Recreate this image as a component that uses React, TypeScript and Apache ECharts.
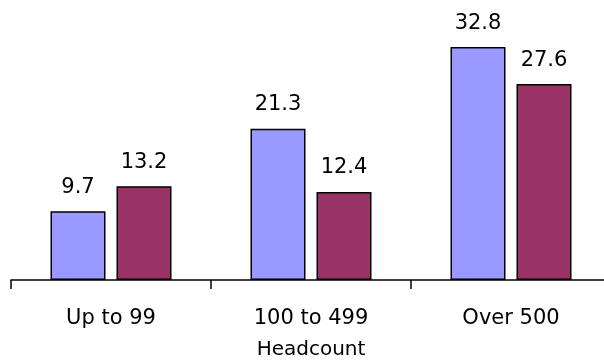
import React, { useEffect, useRef } from "react";
import * as echarts from "echarts";

const categories = ["Up to 99", "100 to 499", "Over 500"];
const seriesA = [9.7, 21.3, 32.8];
const seriesB = [13.2, 12.4, 27.6];
const axisTitle = "Headcount";

export default function App() {
  const ref = useRef<HTMLDivElement>(null);
  useEffect(() => {
    const chart = echarts.init(ref.current!, null, { renderer: "svg" });
    const font = "'DejaVu Sans', 'Liberation Sans', Arial, sans-serif";
    const label = {
      show: true,
      position: "top" as const,
      distance: 15,
      color: "#000",
      fontSize: 21,
      fontFamily: font,
      formatter: (p: any) => p.value.toFixed(1),
    };
    chart.setOption({
      animation: false,
      grid: {
        left: 11,
        right: 0,
        top: 31.5,
        bottom: 82,
        containLabel: false,
        outerBoundsMode: "none",
      },
      xAxis: {
        type: "category",
        data: categories,
        name: axisTitle,
        nameLocation: "middle",
        nameGap: 68,
        nameTextStyle: {
          color: "#000",
          fontSize: 20,
          fontFamily: font,
          verticalAlign: "middle",
          lineHeight: 20,
        },
        axisLine: { lineStyle: { color: "#000", width: 1.5 } },
        axisTick: { show: true, length: 9, lineStyle: { color: "#000", width: 1.5 } },
        axisLabel: { color: "#000", fontSize: 21, fontFamily: font, margin: 26 },
      },
      yAxis: {
        type: "value",
        min: 0,
        max: 35,
        show: false,
        splitLine: { show: false },
      },
      series: [
        {
          type: "bar",
          data: seriesA,
          barWidth: "27.5%",
          barGap: "20%",
          itemStyle: { color: "#9999FF", borderColor: "#000", borderWidth: 1.5 },
          label,
        },
        {
          type: "bar",
          data: seriesB,
          barWidth: "27.5%",
          itemStyle: { color: "#993366", borderColor: "#000", borderWidth: 1.5 },
          label,
        },
      ],
    });
    return () => chart.dispose();
  }, []);
  return (
    <div style={{ position: "fixed", left: 0, top: 0, width: 604, height: 362, overflow: "hidden" }}>
      <div ref={ref} style={{ position: "absolute", left: 0, top: 0, width: 611, height: 362 }} />
    </div>
  );
}
